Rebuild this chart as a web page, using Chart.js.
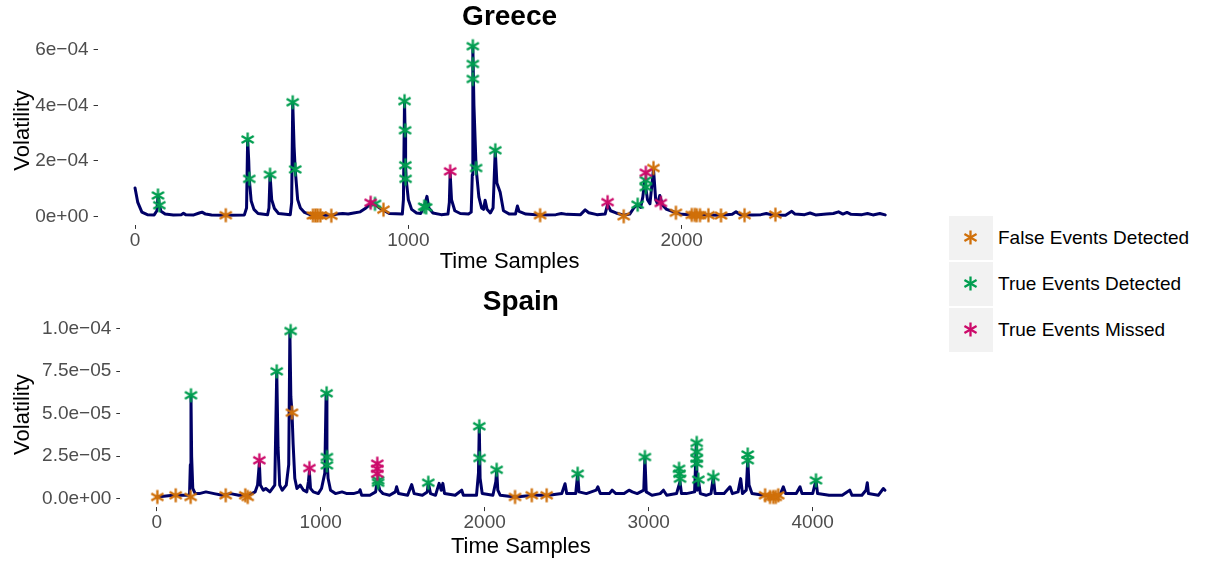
<!DOCTYPE html>
<html>
<head>
<meta charset="utf-8">
<script src="https://cdn.jsdelivr.net/npm/chart.js@4.4.1/dist/chart.umd.min.js"></script>
<style>
  body { margin: 0; background: #fff; font-family: "Liberation Sans", Arial, sans-serif; }
  #wrap { position: relative; width: 1207px; height: 563px; overflow: hidden; }
  canvas.panel { position: absolute; left: 0; }
  .key { position: absolute; left: 949px; width: 44px; height: 44px; background: #F2F2F2; }
  .key canvas { position: absolute; left: 13px; top: 13px; }
  .lab { position: absolute; left: 998px; font-size: 19px; color: #000; line-height: 44px; white-space: nowrap; }
</style>
</head>
<body>
<div id="wrap">
  <canvas id="greece" class="panel" width="930" height="280" style="top:1.5px;width:930px;height:280px"></canvas>
  <canvas id="spain" class="panel" width="930" height="283" style="top:281.5px;width:930px;height:283px"></canvas>
  <div id="legend"></div>
</div>
<script>
// Greece: volatility line (time sample, value)
const greeceLineX = [0,10,25,45,70,80,84,89,95,110,140,170,177,185,215,235,245,258,280,332,400,408,412,416,418,425,435,450,485,490,494,500,510,525,568,573,577,582,586,595,605,620,640,680,718,740,760,780,800,824,845,862,878,895,909,930,978,982,986,988,990,992,1000,1012,1030,1045,1058,1068,1075,1090,1120,1145,1150,1153,1158,1170,1190,1220,1230,1234,1236,1240,1248,1258,1268,1275,1281,1288,1300,1310,1318,1324,1336,1348,1370,1392,1399,1405,1430,1480,1540,1560,1580,1630,1647,1660,1690,1720,1729,1740,1760,1788,1810,1825,1839,1850,1858,1865,1875,1884,1897,1905,1912,1920,1930,1945,1960,1979,2000,2037,2067,2098,2144,2185,2199,2215,2260,2290,2310,2330,2380,2403,2415,2450,2470,2490,2530,2555,2574,2590,2605,2620,2660,2680,2700,2725,2745];
const greeceLineY = [1.02e-4,5.0e-5,1.5e-5,6e-6,5e-6,2e-5,7.5e-5,4e-5,1.8e-5,8e-6,5e-6,6e-6,1.1e-5,6e-6,5e-6,1.2e-5,1.5e-5,8e-6,5e-6,4e-6,5e-6,3e-5,2.77e-4,2.0e-4,1.35e-4,5.5e-5,2.5e-5,1.0e-5,6e-6,3e-5,1.5e-4,6e-5,2.8e-5,1.0e-5,6e-6,5e-5,4.11e-4,2.5e-4,1.69e-4,6e-5,3e-5,1.4e-5,6e-6,4e-6,4e-6,8e-6,1.0e-5,8e-6,1.2e-5,1.6e-5,3e-5,4.5e-5,4.3e-5,3e-5,2.2e-5,1.0e-5,8e-6,6e-5,4.15e-4,3.1e-4,1.84e-4,1.35e-4,6e-5,2.5e-5,1.2e-5,1.0e-5,3.5e-5,7.2e-5,3e-5,1.2e-5,6e-6,8e-6,5e-5,1.55e-4,6e-5,2e-5,1.0e-5,8e-6,1.5e-5,1.5e-4,6.13e-4,4e-4,1.74e-4,7e-5,3e-5,2.5e-5,5.8e-5,2.5e-5,1.2e-5,3e-5,2.38e-4,1.2e-4,8.7e-5,2e-5,8e-6,8e-6,3.7e-5,1.8e-5,8e-6,5e-6,6e-6,1.0e-5,7e-6,6e-6,2.3e-5,1.3e-5,6e-6,8e-6,4.3e-5,2e-5,1.2e-5,4e-6,8e-6,3e-5,4.2e-5,3.2e-5,7e-5,1.3e-4,6e-5,4.5e-5,1.7e-4,6e-5,4.5e-5,7.5e-5,4e-5,2.5e-5,2e-5,1.3e-5,7e-6,6e-6,6e-6,5e-6,4e-6,7e-6,1.6e-5,6e-6,5e-6,6e-6,1.0e-5,5e-6,4e-6,1.8e-5,8e-6,6e-6,1.2e-5,5e-6,8e-6,1.0e-5,1.6e-5,8e-6,1.4e-5,7e-6,6e-6,1.0e-5,5e-6,1.0e-5,5e-6];

// Greece: events
const greeceFalseX = [332,651,660,668,678,718,909,1482,1788,1897,1979,2037,2048,2055,2067,2098,2144,2230,2343];
const greeceFalseY = [4e-6,3e-6,3e-6,3e-6,3e-6,2e-6,2.4e-5,4e-6,0,1.74e-4,1.3e-5,5e-6,5e-6,4e-6,4e-6,4e-6,3e-6,4e-6,6e-6];
const greeceTrueX = [84,89,412,418,494,577,586,878,986,988,989,990,1058,1065,1236,1236,1236,1248,1318,1839,1869,1869];
const greeceTrueY = [7.5e-5,4e-5,2.77e-4,1.35e-4,1.5e-4,4.11e-4,1.69e-4,4.5e-5,4.15e-4,3.1e-4,1.84e-4,1.35e-4,3.5e-5,3.2e-5,6.13e-4,5.49e-4,4.95e-4,1.74e-4,2.38e-4,4.2e-5,1.3e-4,1.05e-4];
const greeceMissX = [862,1153,1729,1869,1924];
const greeceMissY = [4.9e-5,1.62e-4,5.1e-5,1.57e-4,4.8e-5];

const greeceXTicks = [0,1000,2000];
const greeceYTicks = [0,2e-4,4e-4,6e-4];
const greeceYLabels = ['0e+00','2e\u221204','4e\u221204','6e\u221204'];

// Spain: volatility line
const spainLineX = [0,100,200,205,209,213,220,235,260,300,350,400,450,500,560,600,615,626,632,650,665,690,720,732,740,750,765,790,805,812,818,825,832,842,855,875,895,915,925,931,938,955,985,1005,1025,1033,1038,1045,1060,1090,1130,1160,1200,1235,1240,1250,1300,1335,1345,1360,1380,1420,1455,1463,1475,1530,1555,1570,1620,1650,1656,1670,1700,1722,1735,1745,1755,1820,1860,1870,1950,1962,1967,1972,1985,2050,2068,2073,2080,2095,2185,2300,2390,2470,2490,2500,2555,2567,2575,2620,2680,2690,2705,2760,2777,2800,2850,2880,2900,2930,2970,2977,2985,3020,3070,3090,3110,3170,3191,3200,3230,3280,3290,3296,3303,3315,3350,3380,3394,3405,3460,3496,3510,3545,3561,3572,3595,3604,3612,3630,3700,3780,3800,3821,3835,3900,3923,3935,4000,4020,4030,4100,4180,4226,4240,4300,4325,4333,4340,4400,4431,4441];
const spainLineY = [1e-6,2e-6,2e-6,2e-5,6.08e-5,2.5e-5,6e-6,3e-6,3e-6,4e-6,3e-6,2e-6,3e-6,2e-6,2e-6,4e-6,8e-6,2.1e-5,8e-6,5e-6,6e-6,4e-6,8e-6,7.49e-5,3e-5,8e-6,5e-6,8e-6,2e-5,9.86e-5,6e-5,5.06e-5,3.2e-5,1.2e-5,6e-6,8e-6,5e-6,4e-6,1e-5,1.6e-5,6e-6,4e-6,3e-6,6e-6,1.5e-5,6.2e-5,2.45e-5,1.2e-5,5e-6,3e-6,4e-6,3e-6,3e-6,4e-6,5.3e-6,2e-6,2e-6,4e-6,1.1e-5,5e-6,3e-6,2e-6,4e-6,7e-6,3e-6,2e-6,8.3e-6,3e-6,2e-6,4e-6,9.4e-6,3e-6,2e-6,9e-6,5e-6,9e-6,3e-6,2e-6,5e-6,2e-6,2e-6,1.5e-5,4.26e-5,1.2e-5,3e-6,2e-6,1e-5,1.7e-5,5e-6,2e-6,1e-6,2e-6,2e-6,3e-6,8.8e-6,3e-6,3e-6,1.47e-5,4e-6,3e-6,5e-6,7e-6,3e-6,3e-6,5e-6,3e-6,3e-6,5e-6,4e-6,3e-6,5e-6,2.45e-5,4e-6,2e-6,3e-6,5e-6,2e-6,3e-6,1e-5,3e-6,3e-6,4e-6,3.2e-5,5e-6,1.12e-5,3e-6,2e-6,3e-6,1.28e-5,3e-6,3e-6,7e-6,3e-6,4e-6,1.18e-5,3e-6,5e-6,2.3e-5,8e-6,3e-6,2e-6,1e-6,2e-6,7e-6,3e-6,3e-6,7e-6,3e-6,3e-6,1.08e-5,3e-6,2e-6,2e-6,5e-6,2e-6,2e-6,5e-6,9.4e-6,3e-6,2e-6,6e-6,5e-6];

// Spain: events
const spainFalseX = [4,116,207,421,540,555,825,2185,2287,2378,3710,3740,3760,3775,3790];
const spainFalseY = [1e-6,2e-6,1e-6,2e-6,2e-6,1e-6,5.06e-5,1e-6,2e-6,2e-6,2e-6,1e-6,1e-6,1e-6,2e-6];
const spainTrueX = [209,732,817,1036,1038,1038,1350,1350,1656,1967,1969,2073,2567,2977,3185,3188,3191,3293,3293,3293,3293,3303,3394,3604,3604,4020];
const spainTrueY = [6.08e-5,7.49e-5,9.86e-5,6.2e-5,2.45e-5,1.96e-5,1.08e-5,9.4e-6,9.4e-6,4.26e-5,2.39e-5,1.7e-5,1.47e-5,2.45e-5,1.76e-5,1.47e-5,1.18e-5,3.28e-5,2.75e-5,2.35e-5,2.06e-5,1.12e-5,1.28e-5,2.6e-5,2.26e-5,1.08e-5];
const spainMissX = [626,931,1345,1345,1345];
const spainMissY = [2.26e-5,1.8e-5,2.06e-5,1.76e-5,1.47e-5];

const spainXTicks = [0,1000,2000,3000,4000];
const spainYTicks = [0,2.5e-5,5e-5,7.5e-5,1e-4];
const spainYLabels = ['0.0e+00','2.5e\u221205','5.0e\u221205','7.5e\u221205','1.0e\u221204'];

const legendNames = ['False Events Detected','True Events Detected','True Events Missed'];
const legendColors = ['#D0700A','#009E50','#CC0A6A'];

const FONT = '"Liberation Sans", Arial, sans-serif';

// asterisk marker like ggplot's shape "*"
function makeStar(color) {
  const c = document.createElement('canvas');
  c.width = 17; c.height = 17;
  const ctx = c.getContext('2d');
  ctx.strokeStyle = color;
  ctx.lineWidth = 2.3;
  const r = 7, cx = 8.5, cy = 8.5;
  [90, 30, 150].forEach(a => {
    const t = a * Math.PI / 180;
    ctx.beginPath();
    ctx.moveTo(cx - r * Math.cos(t), cy - r * Math.sin(t));
    ctx.lineTo(cx + r * Math.cos(t), cy + r * Math.sin(t));
    ctx.stroke();
  });
  return c;
}
const stars = legendColors.map(makeStar);

function pts(xs, ys) {
  return xs.map((x, i) => ({ x: x, y: ys[i] }));
}

function makePanel(id, p) {
  const starSet = (xs, ys, k) => ({
    data: pts(xs, ys),
    pointStyle: stars[k],
    showLine: false,
    order: 3 - k
  });
  return new Chart(document.getElementById(id), {
    type: 'scatter',
    data: {
      datasets: [
        starSet(p.falseX, p.falseY, 0),
        starSet(p.trueX, p.trueY, 1),
        starSet(p.missX, p.missY, 2),
        {
          data: pts(p.lineX, p.lineY),
          showLine: true,
          pointRadius: 0,
          borderColor: '#000066',
          borderWidth: 3,
          borderJoinStyle: 'round',
          borderCapStyle: 'round',
          order: 10
        }
      ]
    },
    options: {
      responsive: false,
      animation: false,
      events: [],
      layout: { padding: { left: 0, right: p.padRight, top: 0, bottom: 0 } },
      plugins: {
        legend: { display: false },
        tooltip: { enabled: false },
        title: {
          display: true,
          text: p.title,
          fullSize: false,
          color: '#000',
          font: { family: FONT, size: 28, weight: 'bold', lineHeight: 1 },
          padding: { top: p.titleTop, bottom: p.titleBottom }
        }
      },
      scales: {
        x: {
          type: 'linear',
          min: p.xMin, max: p.xMax,
          afterBuildTicks: s => { s.ticks = p.xTicks.map(v => ({ value: v })); },
          afterFit: s => { s.height = p.xAxisH; },
          ticks: { color: '#4D4D4D', font: { family: FONT, size: 19 }, padding: 0, maxRotation: 0,
                   callback: v => String(v) },
          grid: { drawOnChartArea: false, drawTicks: true, tickLength: 4, color: '#333333' },
          border: { display: false },
          title: { display: true, text: 'Time Samples', color: '#000',
                   font: { family: FONT, size: 22, lineHeight: 1 }, padding: { top: 0, bottom: p.xTitleBottom } }
        },
        y: {
          type: 'linear',
          min: p.yMin, max: p.yMax,
          afterBuildTicks: s => { s.ticks = p.yTicks.map(v => ({ value: v })); },
          afterFit: s => { s.width = p.yAxisW; },
          ticks: { color: '#4D4D4D', font: { family: FONT, size: 19 }, padding: 5,
                   callback: (v, i) => p.yLabels[i] },
          grid: { drawOnChartArea: false, drawTicks: true, tickLength: 4, color: '#333333' },
          border: { display: false },
          title: { display: true, text: 'Volatility', color: '#000',
                   font: { family: FONT, size: 22, lineHeight: 1 }, padding: { top: 12, bottom: 0 } }
        }
      }
    }
  });
}

makePanel('greece', {
  title: 'Greece', titleTop: 1, titleBottom: 4.7,
  lineX: greeceLineX, lineY: greeceLineY,
  falseX: greeceFalseX, falseY: greeceFalseY,
  trueX: greeceTrueX, trueY: greeceTrueY,
  missX: greeceMissX, missY: greeceMissY,
  xTicks: greeceXTicks, yTicks: greeceYTicks, yLabels: greeceYLabels,
  xMin: -137, xMax: 2878, yMin: -3.1e-5, yMax: 6.51e-4,
  yAxisW: 97.6, xAxisH: 57.1, padRight: 8.4, xTitleBottom: 9
});

makePanel('spain', {
  title: 'Spain', titleTop: 6, titleBottom: 6,
  lineX: spainLineX, lineY: spainLineY,
  falseX: spainFalseX, falseY: spainFalseY,
  trueX: spainTrueX, trueY: spainTrueY,
  missX: spainMissX, missY: spainMissY,
  xTicks: spainXTicks, yTicks: spainYTicks, yLabels: spainYLabels,
  xMin: -222, xMax: 4663, yMin: -4.94e-6, yMax: 1.039e-4,
  yAxisW: 120.3, xAxisH: 57.9, padRight: 8.6, xTitleBottom: 7
});

// legend
const leg = document.getElementById('legend');
legendNames.forEach((name, i) => {
  const top = 216 + i * 46;
  const key = document.createElement('div');
  key.className = 'key';
  key.style.top = top + 'px';
  const c = document.createElement('canvas');
  c.width = 17; c.height = 17;
  c.getContext('2d').drawImage(stars[i], 0, 0);
  key.appendChild(c);
  leg.appendChild(key);
  const lab = document.createElement('div');
  lab.className = 'lab';
  lab.style.top = top + 'px';
  lab.textContent = name;
  leg.appendChild(lab);
});
</script>
</body>
</html>
